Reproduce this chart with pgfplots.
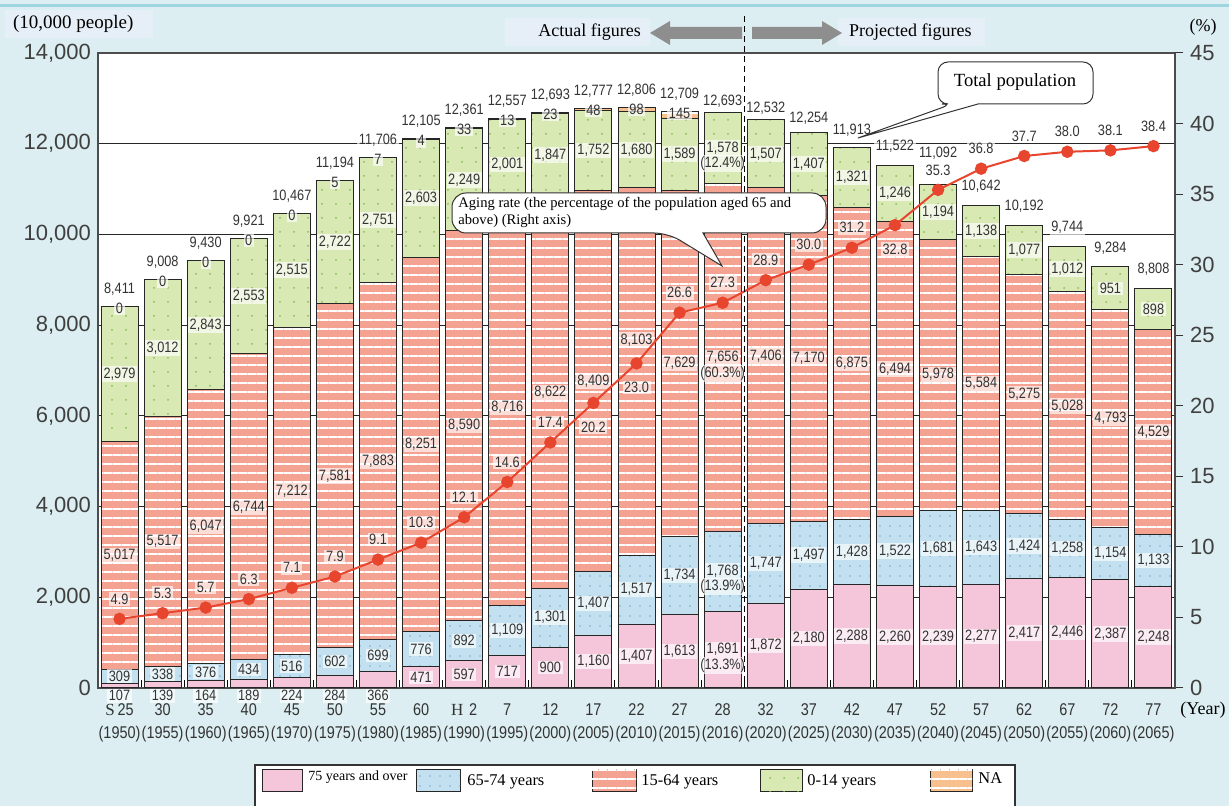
\documentclass[border=0pt]{standalone}
\usepackage{fontspec}
\setmainfont{Liberation Sans}
\newfontfamily\narrowfont[FakeStretch=0.85]{Liberation Sans}
\newfontfamily\timesfont{Liberation Serif}
\usepackage{pgfplots}
\pgfplotsset{compat=1.18}
\usepackage{pgfplotstable}
\usetikzlibrary{patterns.meta}

\definecolor{bgc}{HTML}{DCEEF2}
\definecolor{c75}{HTML}{F5C6DA}
\definecolor{c65}{HTML}{C2E0F0}
\definecolor{c65d}{HTML}{7FAFD0}
\definecolor{c15}{HTML}{F4A292}
\definecolor{c0}{HTML}{D8E9B4}
\definecolor{c0d}{HTML}{8DBB5A}
\definecolor{cna}{HTML}{F8C08E}
\definecolor{cline}{HTML}{E8452E}
\definecolor{hdr}{HTML}{E6EFF8}
\definecolor{arr}{HTML}{8E8E8E}
\definecolor{topl}{HTML}{9DD6E0}

\tikzset{
 s75/.style={fill=c75, draw=black!85, line width=0.5pt},
 s65/.style={fill=c65, draw=black!85, line width=0.5pt, postaction={pattern={Dots[radius=0.45pt,distance=5pt]}, pattern color=c65d}},
 s15/.style={fill=c15, draw=black!85, line width=0.5pt, postaction={pattern={Lines[angle=0,distance=4.5pt,line width=1.3pt]}, pattern color=white}},
 s0/.style={fill=c0, draw=black!85, line width=0.5pt, postaction={pattern={Dots[radius=0.5pt,distance=7pt]}, pattern color=c0d}},
 sna/.style={fill=cna, draw=black!85, line width=0.5pt, postaction={pattern={Lines[angle=0,distance=4.5pt,line width=1.3pt]}, pattern color=white}},
 px/.style={x=0.5pt,y=-0.5pt,shift={(-49pt,344pt)}},
 lab/.style={font=\narrowfont\fontsize{7.5}{8}\selectfont, text=black!80, fill=white, fill opacity=0.65, text opacity=1, inner sep=0.8pt},
 tm/.style={font=\timesfont\fontsize{9}{10}\selectfont},
 lg/.style={anchor=west, font=\timesfont\fontsize{8.2}{9}\selectfont, inner sep=0pt}
}

\pgfplotstableread{
i a b c d na tot rate off toff
0 107 309 5017 2979 0 8411 4.9 10 200
1 139 338 5517 3012 0 9008 5.3 10 200
2 164 376 6047 2843 0 9430 5.7 10 200
3 189 434 6744 2553 0 9921 6.3 10 200
4 224 516 7212 2515 0 10467 7.1 10 200
5 284 602 7581 2722 5 11194 7.9 10 200
6 366 699 7883 2751 7 11706 9.1 10 200
7 471 776 8251 2603 4 12105 10.3 10 200
8 597 892 8590 2249 33 12361 12.1 10 200
9 717 1109 8716 2001 13 12557 14.6 10 200
10 900 1301 8622 1847 23 12693 17.4 10 200
11 1160 1407 8409 1752 48 12777 20.2 -12 200
12 1407 1517 8103 1680 98 12806 23.0 -12 200
13 1613 1734 7629 1589 145 12709 26.6 10 200
14 1691 1768 7656 1578 0 12693 27.3 10 60
15 1872 1747 7406 1507 0 12532 28.9 10 60
16 2180 1497 7170 1407 0 12254 30.0 10 120
17 2288 1428 6875 1321 0 11913 31.2 10 200
18 2260 1522 6494 1246 0 11522 32.8 -12 240
19 2239 1681 5978 1194 0 11092 35.3 10 520
20 2277 1643 5584 1138 0 10642 36.8 10 240
21 2417 1424 5275 1077 0 10192 37.7 10 240
22 2446 1258 5028 1012 0 9744 38.0 10 240
23 2387 1154 4793 951 0 9284 38.1 10 240
24 2248 1133 4529 898 0 8808 38.4 10 240
}\data

\pgfplotsset{
 common/.style={at={(0,0)}, anchor=south west, scale only axis, width=538.5pt, height=317.5pt,
   xmin=-0.5, xmax=24.5, /pgf/number format/assume math mode=true},
 lbl/.style={only marks, mark=text, text mark={}, nodes near coords}
}

\begin{document}
\begin{tikzpicture}
\path[use as bounding box] (-49pt,-59pt) rectangle (565.5pt,344pt);
\clip (-49pt,-59pt) rectangle (565.5pt,344pt);
\fill[bgc] (-49pt,-59pt) rectangle (565.5pt,344pt);

\begin{scope}[px]
\draw[topl, line width=1.5pt] (0,6) -- (1229,6);
\fill[hdr] (5,10) rectangle (153,38);
\node[tm, anchor=west, font=\timesfont\fontsize{9.5}{10}\selectfont] at (6,24) {(10,000 people)};
\fill[hdr] (505,18) rectangle (650,46);
\node[tm, anchor=east] at (648,32) {Actual figures};
\fill[hdr] (838,18) rectangle (985,46);
\node[tm, anchor=west] at (842,32) {Projected figures};
\fill[arr] (742,27) -- (670,27) -- (670,21) -- (650,33) -- (670,45) -- (670,39) -- (742,39) -- cycle;
\fill[arr] (752,27) -- (822,27) -- (822,21) -- (842,33) -- (822,45) -- (822,39) -- (752,39) -- cycle;
\node[tm] at (1203,27) {(\%)};
\node[tm] at (1203,710) {(Year)};
\end{scope}

% bars
\begin{axis}[common,
  ymin=0, ymax=14000,
  ybar stacked, bar width=18.5pt,
  axis background/.style={fill=white},
  axis line style={draw=black!70, line width=1pt},
  xtick={0,...,24},
  xticklabels={{\timesfont S}\,25\\(1950),30\\(1955),35\\(1960),40\\(1965),45\\(1970),50\\(1975),55\\(1980),60\\(1985),{\timesfont H}\,\,2\\(1990),7\\(1995),12\\(2000),17\\(2005),22\\(2010),27\\(2015),28\\(2016),32\\(2020),37\\(2025),42\\(2030),47\\(2035),52\\(2040),57\\(2045),62\\(2050),67\\(2055),72\\(2060),77\\(2065)},
  xtick pos=bottom, ytick pos=left,
  major x tick style={draw=none},
  minor xtick={0.5,1.5,...,23.5},
  minor x tick style={draw=black, line width=0.5pt},
  minor tick length=4pt,
  ytick={0,2000,...,14000},
  scaled y ticks=false,
  major y tick style={draw=none},
  ymajorgrids, grid style={draw=black!85, line width=0.5pt},
  /pgf/number format/1000 sep={,},
  yticklabel style={font=\fontsize{11}{12}\selectfont, text=black!75},
  xticklabel style={font=\narrowfont\fontsize{8.5}{11.5}\selectfont, align=center, text=black!80, yshift=-4.5pt},
]
\addplot[s75] table[x=i,y=a]{\data};
\addplot[s65] table[x=i,y=b]{\data};
\addplot[s15] table[x=i,y=c]{\data};
\addplot[s0] table[x=i,y=d]{\data};
\addplot[sna] table[x=i,y=na]{\data};
\end{axis}

% bar labels
\begin{axis}[common, ymin=0, ymax=14000, hide axis, clip=false,
  /pgf/number format/1000 sep={,},
  every node near coord/.append style={lab, anchor=center}]
\addplot[lbl, point meta=\thisrow{a}] table[x=i, y expr={ifthenelse(\thisrow{a}<400,-170,\thisrow{a}/2)}]{\data};
\addplot[lbl, point meta=\thisrow{b}] table[x=i, y expr={\thisrow{a}+\thisrow{b}/2}]{\data};
\addplot[lbl, point meta=\thisrow{c}] table[x=i, y expr={\thisrow{a}+\thisrow{b}+\thisrow{c}/2+ifthenelse(\thisrow{i}==12,700,0)}]{\data};
\addplot[lbl, point meta=\thisrow{d}] table[x=i, y expr={\thisrow{a}+\thisrow{b}+\thisrow{c}+\thisrow{d}/2}]{\data};
\addplot[lbl, point meta=\thisrow{na}, restrict x to domain=0:13] table[x=i, y expr={\thisrow{a}+\thisrow{b}+\thisrow{c}+\thisrow{d}+\thisrow{na}-40}]{\data};
\addplot[lbl, point meta=\thisrow{tot}, every node near coord/.append style={anchor=south}] table[x=i, y expr={\thisrow{tot}+\thisrow{toff}}]{\data};
\node[lab] at (axis cs:14,11560) {(12.4\%)};
\node[lab] at (axis cs:14,6940) {(60.3\%)};
\node[lab] at (axis cs:14,2230) {(13.9\%)};
\node[lab] at (axis cs:14,500) {(13.3\%)};
\end{axis}

% aging rate
\begin{axis}[common, ymin=0, ymax=45, clip=false,
  axis x line=none, axis y line*=right,
  ytick={0,5,...,45}, tick align=outside, major tick length=4pt,
  ytick style={draw=black!80, line width=0.5pt},
  axis line style={draw=black!70, line width=1pt},
  yticklabel style={font=\fontsize{11}{12}\selectfont, text=black!75}]
\addplot[cline, line width=1pt, mark=*, mark size=2.6pt, mark options={fill=cline, draw=cline},
  nodes near coords={\pgfmathprintnumber[fixed,fixed zerofill,precision=1]{\pgfplotspointmeta}},
  point meta=\thisrow{rate},
  visualization depends on={\thisrow{off}\as\off},
  every node near coord/.append style={lab, anchor=center, yshift=\off*1pt}]
  table[x=i,y=rate]{\data};
\end{axis}

\begin{scope}[px]
\draw[black, line width=0.8pt, dash pattern=on 3pt off 2pt] (744.5,16) -- (744.5,688);
% Total population callout
\draw[fill=white, draw=black!80, line width=0.5pt] (952,104) -- (858,138) -- (978,104) [rounded corners=5pt] -- (1093,104) -- (1093,62) -- (938,62) -- (938,104) -- cycle;
\node[tm, font=\timesfont\fontsize{9.3}{10}\selectfont] at (1015,82) {Total population};
% Aging callout
\draw[fill=white, draw=black!80, line width=0.5pt] (668,233) -- (722,266) -- (703,233) [rounded corners=7pt] -- (826,233) -- (826,193) -- (452,193) -- (452,233) -- cycle;
\node[anchor=north west, align=left, font=\timesfont\fontsize{7.3}{8.5}\selectfont, inner sep=0pt] at (458,197) {Aging rate (the percentage of the population aged 65 and\\above) (Right axis)};
% legend
\draw[fill=white, draw=black!80, line width=0.6pt] (255,765) rectangle (1015,840);
\path[s75] (262,770) rectangle (302,792);
\node[anchor=west, font=\timesfont\fontsize{7}{8}\selectfont, inner sep=0pt] at (308,777) {75 years and over};
\path[s65] (416,770) rectangle (460,792);
\node[lg] at (467,782) {65-74 years};
\path[s15] (592,770) rectangle (636,792);
\node[lg] at (641,782) {15-64 years};
\path[s0] (760,770) rectangle (802,792);
\node[lg] at (807,782) {0-14 years};
\path[sna] (930,770) rectangle (972,792);
\node[lg] at (978,778) {NA};
\end{scope}
\end{tikzpicture}
\end{document}
